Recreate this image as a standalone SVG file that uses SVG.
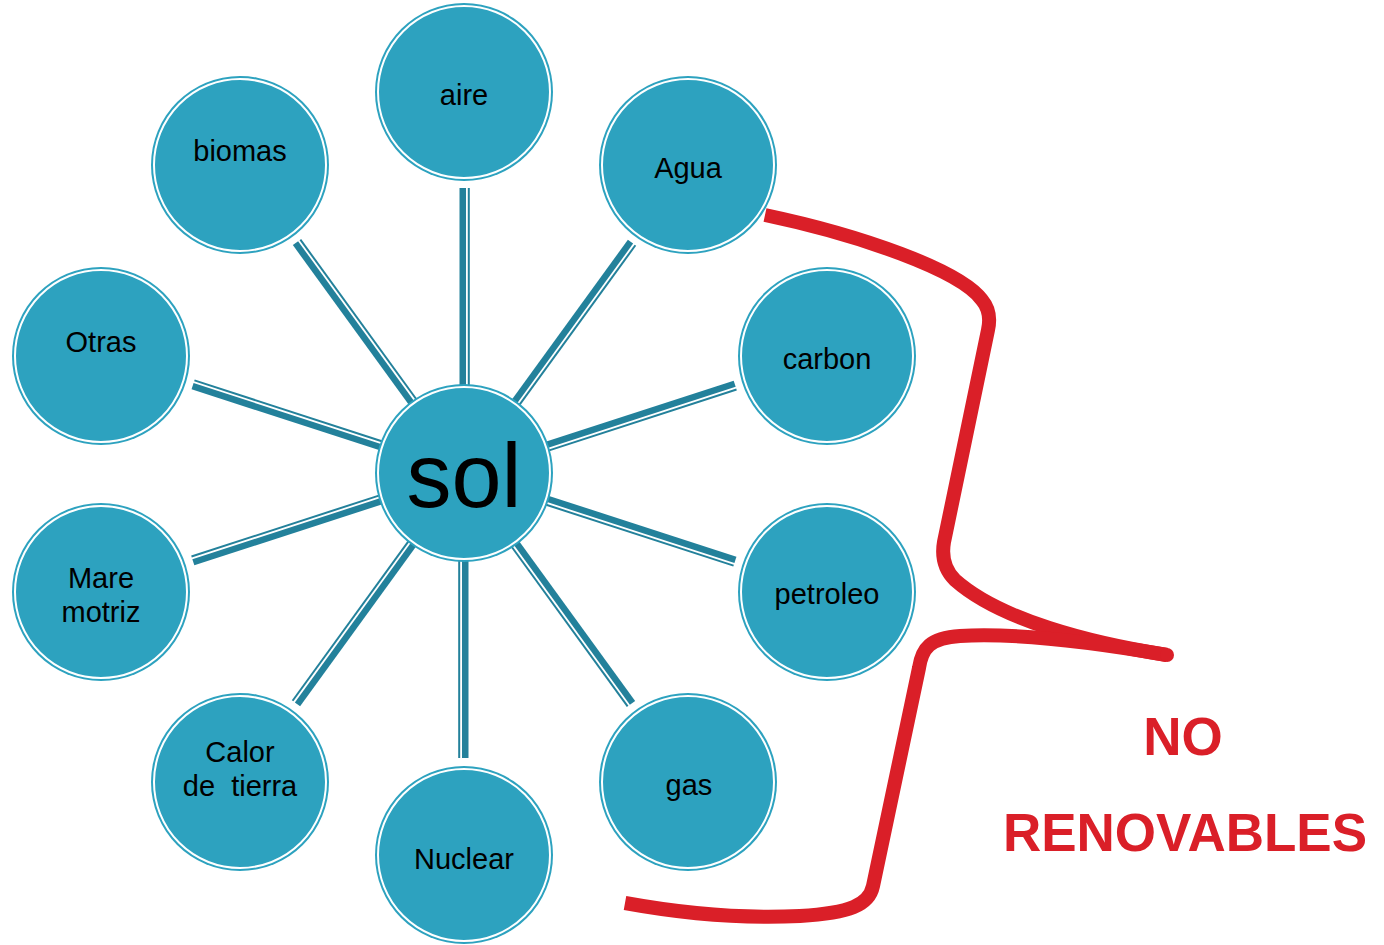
<svg xmlns="http://www.w3.org/2000/svg" width="1384" height="945" viewBox="0 0 1384 945">
<defs>
<style>
.node .bg{fill:#2DA2BF}
.node .ring{fill:none;stroke:#fff;stroke-width:2}
.lbl{font-family:"Liberation Sans",Arial,sans-serif;font-size:29px;fill:#000;text-anchor:middle;white-space:pre}
.big{font-family:"Liberation Sans",Arial,sans-serif;font-size:90px;fill:#000;text-anchor:middle}
.red{font-family:"Liberation Sans",Arial,sans-serif;font-size:53px;font-weight:bold;fill:#DA1F28;text-anchor:middle}
.brace{fill:none;stroke:#DA1F28;stroke-width:14;stroke-linejoin:round;stroke-linecap:butt}
</style>
<g id="link">
<rect x="-4.5" y="-285" width="6.5" height="197" fill="#23819B"/>
<rect x="3.8" y="-285" width="2" height="197" fill="#23819B"/>
</g>
</defs>
<rect width="1384" height="945" fill="#fff"/>
<g id="connectors" transform="translate(464,473)">
<use href="#link" transform="rotate(0)"/>
<use href="#link" transform="rotate(36)"/>
<use href="#link" transform="rotate(72)"/>
<use href="#link" transform="rotate(108)"/>
<use href="#link" transform="rotate(144)"/>
<use href="#link" transform="rotate(180)"/>
<use href="#link" transform="rotate(216)"/>
<use href="#link" transform="rotate(252)"/>
<use href="#link" transform="rotate(288)"/>
<use href="#link" transform="rotate(324)"/>
</g>
<g id="sol" class="node"><circle class="bg" cx="464" cy="473" r="89"/><circle class="ring" cx="464" cy="473" r="86"/><text class="big" x="464" y="507">sol</text></g>
<g id="aire" class="node"><circle class="bg" cx="464" cy="92" r="89"/><circle class="ring" cx="464" cy="92" r="86"/><text class="lbl" x="464" y="105">aire</text></g>
<g id="agua" class="node"><circle class="bg" cx="688" cy="165" r="89"/><circle class="ring" cx="688" cy="165" r="86"/><text class="lbl" x="688" y="178">Agua</text></g>
<g id="carbon" class="node"><circle class="bg" cx="827" cy="356" r="89"/><circle class="ring" cx="827" cy="356" r="86"/><text class="lbl" x="827" y="369">carbon</text></g>
<g id="petroleo" class="node"><circle class="bg" cx="827" cy="592" r="89"/><circle class="ring" cx="827" cy="592" r="86"/><text class="lbl" x="827" y="604">petroleo</text></g>
<g id="gas" class="node"><circle class="bg" cx="688" cy="782" r="89"/><circle class="ring" cx="688" cy="782" r="86"/><text class="lbl" x="689" y="795">gas</text></g>
<g id="nuclear" class="node"><circle class="bg" cx="464" cy="855" r="89"/><circle class="ring" cx="464" cy="855" r="86"/><text class="lbl" x="464" y="869">Nuclear</text></g>
<g id="calor" class="node"><circle class="bg" cx="240" cy="782" r="89"/><circle class="ring" cx="240" cy="782" r="86"/><text class="lbl" x="240" y="762">Calor</text><text class="lbl" x="240" y="796">de  tierra</text></g>
<g id="mare" class="node"><circle class="bg" cx="101" cy="592" r="89"/><circle class="ring" cx="101" cy="592" r="86"/><text class="lbl" x="101" y="588">Mare</text><text class="lbl" x="101" y="622">motriz</text></g>
<g id="otras" class="node"><circle class="bg" cx="101" cy="356" r="89"/><circle class="ring" cx="101" cy="356" r="86"/><text class="lbl" x="101" y="352">Otras</text></g>
<g id="biomas" class="node"><circle class="bg" cx="240" cy="165" r="89"/><circle class="ring" cx="240" cy="165" r="86"/><text class="lbl" x="240" y="161">biomas</text></g>
<g id="brace">
<path class="brace" d="M765,215 C860,235 960,270 982,300 Q992,312 988,330 L944,542 Q940,565 955,580 C1000,620 1090,643 1167,655"/>
<path class="brace" d="M1167,655 C1080,640 1010,633 960,636 C930,638 922,648 919,668 L873,886 C869,905 850,913 800,916 C740,919 680,913 625,903"/>
<circle cx="1167" cy="655" r="7" fill="#DA1F28"/>
</g>
<g id="label">
<text class="red" x="1183" y="755">NO</text>
<text class="red" x="1185" y="851">RENOVABLES</text>
</g>
</svg>
